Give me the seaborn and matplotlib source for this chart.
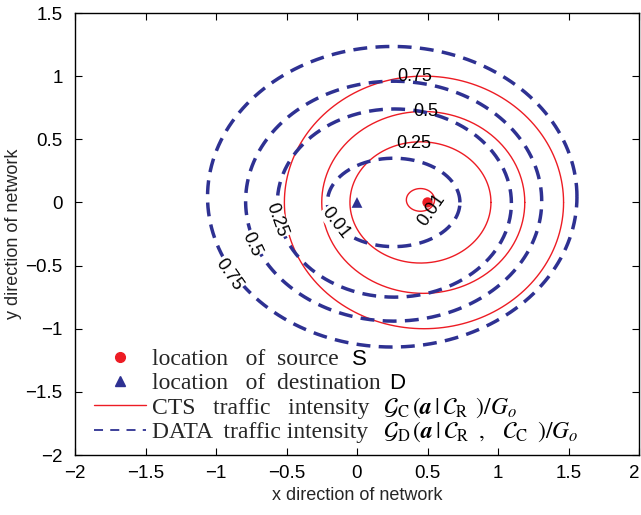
import numpy as np
import pandas as pd
import matplotlib
matplotlib.use("Agg")
import matplotlib.pyplot as plt
from matplotlib.lines import Line2D
import seaborn as sns

# ---- data ----
levels = [0.01, 0.25, 0.5, 0.75]
level_labels = ["0.01", "0.25", "0.5", "0.75"]

# CTS traffic intensity contours (centre and semi-axes per level)
cts_cx = [0.45, 0.45, 0.47, 0.475]
cts_cy = [0.02, 0.0, 0.0, 0.0]
cts_rx = [0.10, 0.50, 0.72, 0.99]
cts_ry = [0.09, 0.48, 0.72, 1.00]

# DATA traffic intensity contours
data_cx = [0.26, 0.265, 0.26, 0.25]
data_cy = [0.0, -0.005, 0.01, 0.045]
data_rx = [0.47, 0.83, 1.05, 1.31]
data_ry = [0.35, 0.745, 0.95, 1.19]

source_xy = (0.5, 0.0)
dest_xy = (0.0, 0.0)

xticks = [-2, -1.5, -1, -0.5, 0, 0.5, 1, 1.5, 2]
yticks = [-2, -1.5, -1, -0.5, 0, 0.5, 1, 1.5]

# label anchor positions (x, y, rotation)
cts_lab = [(0.53, -0.06, 55), (0.40, 0.47, 0), (0.49, 0.72, 0), (0.41, 1.00, 0)]
data_lab = [(-0.15, -0.16, -52), (-0.57, -0.14, -70), (-0.75, -0.33, -65), (-0.91, -0.57, -55)]

legend_text = [
    "location   of  source",
    "location   of  destination",
    "CTS   traffic   intensity",
    "DATA  traffic intensity",
]
legend_tags = ["S", "D"]
legend_math = [
    r"$\mathcal{G}_{\mathrm{C}}\,(\boldsymbol{a}\,|\,\mathcal{C}_{\mathrm{R}}\;\,)/G_o$",
    r"$\mathcal{G}_{\mathrm{D}}\,(\boldsymbol{a}\,|\,\mathcal{C}_{\mathrm{R}}\;\;,\;\;\;\mathcal{C}_{\mathrm{C}}\;\;)/G_o$",
]

# ---- styling ----
sns.set_theme(style="white")
plt.rcParams["font.family"] = ["Liberation Sans", "DejaVu Sans"]
plt.rcParams["mathtext.fontset"] = "stix"

RED = "#ED1C24"
BLUE = "#2E3192"

W, H = 641, 515
fig = plt.figure(figsize=(W / 100, H / 100), dpi=100)
ax = fig.add_axes([75 / W, 60 / H, 564 / W, 442 / H])

theta = np.linspace(0, 2 * np.pi, 361)


def ellipse_frame(cx, cy, rx, ry):
    return pd.DataFrame({"x": cx + rx * np.cos(theta), "y": cy + ry * np.sin(theta)})


for cx, cy, rx, ry in zip(cts_cx, cts_cy, cts_rx, cts_ry):
    sns.lineplot(data=ellipse_frame(cx, cy, rx, ry), x="x", y="y", sort=False,
                 estimator=None, color=RED, lw=1.0, ax=ax)

for cx, cy, rx, ry in zip(data_cx, data_cy, data_rx, data_ry):
    sns.lineplot(data=ellipse_frame(cx, cy, rx, ry), x="x", y="y", sort=False,
                 estimator=None, color=BLUE, lw=2.5, ax=ax, dashes=False,
                 linestyle=(0, (4.0, 2.4)))

for (x, y, r), t in zip(cts_lab, level_labels):
    ax.text(x, y, t, rotation=r, ha="center", va="center", fontsize=13,
            color="black", rotation_mode="anchor", zorder=6)
for (x, y, r), t in zip(data_lab, level_labels):
    ax.text(x, y, t, rotation=r, ha="center", va="center", fontsize=13,
            color="black", rotation_mode="anchor", zorder=6,
            bbox=dict(facecolor="white", edgecolor="none", pad=0.5))

pts = pd.DataFrame({"x": [source_xy[0]], "y": [source_xy[1]]})
sns.scatterplot(data=pts, x="x", y="y", color=RED, s=55, marker="o",
                edgecolor="none", ax=ax, zorder=5)
pts_d = pd.DataFrame({"x": [dest_xy[0]], "y": [dest_xy[1]]})
sns.scatterplot(data=pts_d, x="x", y="y", color=BLUE, s=60, marker="^",
                edgecolor="none", ax=ax, zorder=5)

ax.set_xlim(-2, 2)
ax.set_ylim(-2, 1.5)
ax.set_xticks(xticks)
ax.set_yticks(yticks)
ax.set_xticklabels([f"{v:g}".replace("-", "\u2212") for v in xticks], fontsize=13.5)
ax.set_yticklabels([f"{v:g}".replace("-", "\u2212") for v in yticks], fontsize=13.5)
ax.get_xticklabels()[-1].set_horizontalalignment("right")
ax.tick_params(direction="in", length=5, width=0.8, top=True, right=True,
               bottom=True, left=True, colors="black")
ax.tick_params(axis="x", pad=7.5)
ax.tick_params(axis="y", pad=9)
for s in ax.spines.values():
    s.set_color("black")
    s.set_linewidth(1.0)
ax.set_xlabel("x direction of network", fontsize=13, labelpad=3)
ax.set_ylabel("y direction of network", fontsize=13, labelpad=2)

handles = [
    Line2D([], [], color=RED, marker="o", linestyle="none", markersize=7),
    Line2D([], [], color=BLUE, marker="^", linestyle="none", markersize=7),
    Line2D([], [], color=RED, lw=1.0),
    Line2D([], [], color=BLUE, lw=1.3, linestyle=(0, (5, 4))),
]
leg = ax.legend(handles, legend_text, loc="lower left", bbox_to_anchor=(0.0175, 0.006),
                frameon=False, handlelength=2.2, handletextpad=0.25,
                labelspacing=0.12, borderaxespad=0.0,
                prop={"family": "Liberation Serif", "size": 17})

fig.canvas.draw()
renderer = fig.canvas.get_renderer()
texts = leg.get_texts()


def baseline_y(txt):
    x, y = txt.get_transform().transform(txt.get_position())
    return y / H


# sans-serif node tags after rows 1 and 2
for txt, tag, gap in zip(texts[:2], legend_tags, [13, 8]):
    bb = txt.get_window_extent(renderer)
    fig.text((bb.x1 + gap) / W, baseline_y(txt), tag, fontsize=16,
             family="Liberation Sans", ha="left", va="baseline", color="black")
# math expressions after rows 3 and 4 (aligned)
for txt, m in zip(texts[2:], legend_math):
    fig.text(383 / W, baseline_y(txt), m, fontsize=17,
             ha="left", va="baseline", color="black")

fig.savefig("out.png", dpi=100)
